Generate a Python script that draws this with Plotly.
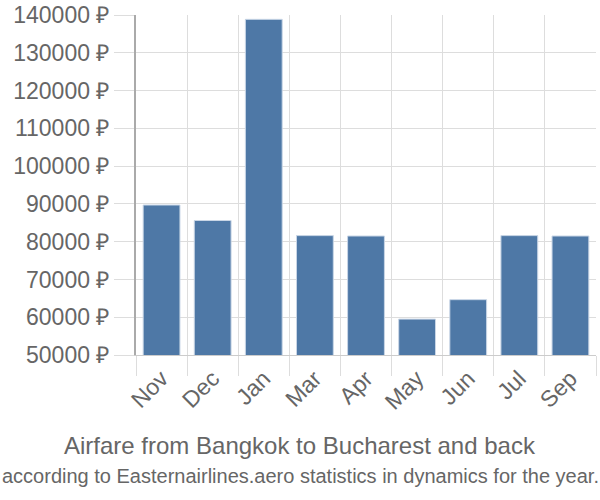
import plotly.graph_objects as go

months = ["Nov", "Dec", "Jan", "Mar", "Apr", "May", "Jun", "Jul", "Sep"]
prices = [89700, 85600, 138850, 81600, 81500, 59500, 64650, 81600, 81500]
y_ticks = [50000, 60000, 70000, 80000, 90000, 100000, 110000, 120000, 130000, 140000]
y_tick_text = [f"{v} ₽" for v in y_ticks]
title_line1 = "Airfare from Bangkok to Bucharest and back"
title_line2 = "according to Easternairlines.aero statistics in dynamics for the year."

W, H = 600, 500
ML, MR, MT, MB = 136, 4, 15, 145
plot_w = W - ML - MR
plot_h = H - MT - MB

def px_x(px):
    return (px - ML) / plot_w

def px_y(py):
    return (H - MB - py) / plot_h

fig = go.Figure()
fig.add_trace(go.Bar(
    x=months, y=prices,
    marker=dict(color="#4e78a6", line=dict(color="#c9d6e6", width=1)),
))

fig.update_layout(
    width=W, height=H,
    margin=dict(l=ML, r=MR, t=MT, b=MB, autoexpand=False),
    paper_bgcolor="white", plot_bgcolor="white",
    bargap=0.28,
    showlegend=False,
    font=dict(family="Liberation Sans, Arial, sans-serif", color="#666666"),
    annotations=[
        dict(text=title_line1, x=px_x(300), xref="paper", xanchor="center",
             y=px_y(445), yref="paper", yanchor="middle", showarrow=False,
             font=dict(size=24, color="#666666")),
        dict(text=title_line2, x=px_x(300), xref="paper", xanchor="center",
             y=px_y(476), yref="paper", yanchor="middle", showarrow=False,
             font=dict(size=20, color="#666666")),
    ],
)

fig.update_xaxes(
    type="category",
    automargin=False,
    tickson="boundaries",
    showgrid=True, gridcolor="#dddddd", gridwidth=1,
    ticks="outside", ticklen=20, tickcolor="#dddddd",
    tickangle=-45,
    tickfont=dict(size=23, color="#666666"),
    showline=True, linecolor="#cccccc", linewidth=1,
)
fig.update_yaxes(
    automargin=False,
    range=[50000, 140000],
    tickvals=y_ticks, ticktext=y_tick_text,
    showgrid=True, gridcolor="#dddddd", gridwidth=1,
    ticks="outside", ticklen=20, tickcolor="#dddddd",
    ticklabelstandoff=0,
    tickfont=dict(size=23, color="#666666"),
    showline=True, linecolor="#aaaaaa", linewidth=2,
    zeroline=False,
)

fig.write_html("out.html")
